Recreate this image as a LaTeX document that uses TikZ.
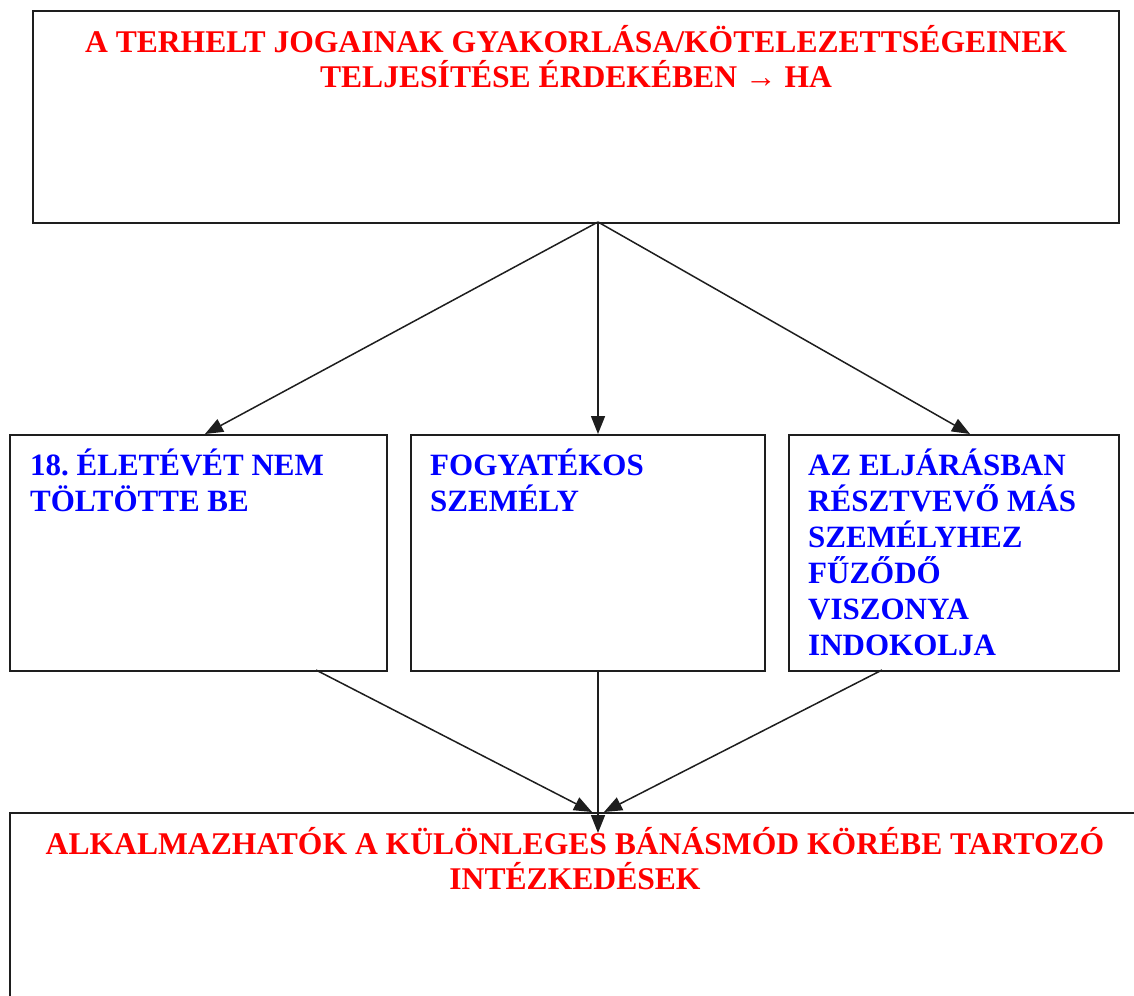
\documentclass[tikz,border=0pt]{standalone}
\usepackage{fontspec}
\setmainfont{Liberation Serif}
\usetikzlibrary{arrows.meta,calc}
\definecolor{ink}{RGB}{30,30,30}
\tikzset{
  box/.style={draw=ink, line width=1.6pt, rectangle, inner sep=0pt, anchor=north west},
  redtext/.style={text=red, font=\fontsize{31.6}{35.5}\selectfont\bfseries, align=center, inner sep=0pt},
  bluetext/.style={text=blue, font=\fontsize{31}{36}\selectfont\bfseries, align=left, inner sep=0pt, anchor=north west},
  arr/.style={draw=ink, line width=1.5pt, -{Triangle[length=18pt,width=14pt]}}
}
\begin{document}
\frenchspacing
\begin{tikzpicture}[x=1pt,y=-1pt]
\useasboundingbox (0,0) rectangle (1134,995);
\clip (0,0) rectangle (1134,995);
\fill[white] (0,0) rectangle (1134,995);

% boxes
\node[box, minimum width=1086pt, minimum height=212pt] (top) at (32,10) {};
\node[box, minimum width=377pt, minimum height=236pt] (b1) at (9,434) {};
\node[box, minimum width=354pt, minimum height=236pt] (b2) at (410,434) {};
\node[box, minimum width=330pt, minimum height=236pt] (b3) at (788,434) {};
\node[box, minimum width=1132pt, minimum height=300pt] (bot) at (9,812) {};

% texts
\node[redtext, anchor=north] (toptext) at (576,25) {A TERHELT JOGAINAK GYAKORLÁSA/KÖTELEZETTSÉGEINEK\\TELJESÍTÉSE ÉRDEKÉBEN → HA};
\node[bluetext] (t1) at (30,449) {18. ÉLETÉVÉT NEM\\TÖLTÖTTE BE};
\node[bluetext] (t2) at (430,449) {FOGYATÉKOS\\SZEMÉLY};
\node[bluetext] (t3) at (808,449) {AZ ELJÁRÁSBAN\\RÉSZTVEVŐ MÁS\\SZEMÉLYHEZ\\FŰZŐDŐ\\VISZONYA\\INDOKOLJA};
\node[redtext, anchor=north] (bottext) at (575,827) {ALKALMAZHATÓK A KÜLÖNLEGES BÁNÁSMÓD KÖRÉBE TARTOZÓ\\INTÉZKEDÉSEK};

% connector end points on the box edges
\coordinate (src) at (598,222);
\coordinate (in1) at (205,434);
\coordinate (in2) at (598,434);
\coordinate (in3) at (970,434);
\coordinate (out1) at (316,670);
\coordinate (out2) at (598,670);
\coordinate (out3) at (882,670);
\coordinate (dst1) at (592,812);
\coordinate (dst2) at (598,833);
\coordinate (dst3) at (604,812);

\draw[arr] (src) -- (in1);
\draw[arr] (src) -- (in2);
\draw[arr] (src) -- (in3);
\draw[arr] (out1) -- (dst1);
\draw[arr] (out2) -- (dst2);
\draw[arr] (out3) -- (dst3);
\end{tikzpicture}
\end{document}
